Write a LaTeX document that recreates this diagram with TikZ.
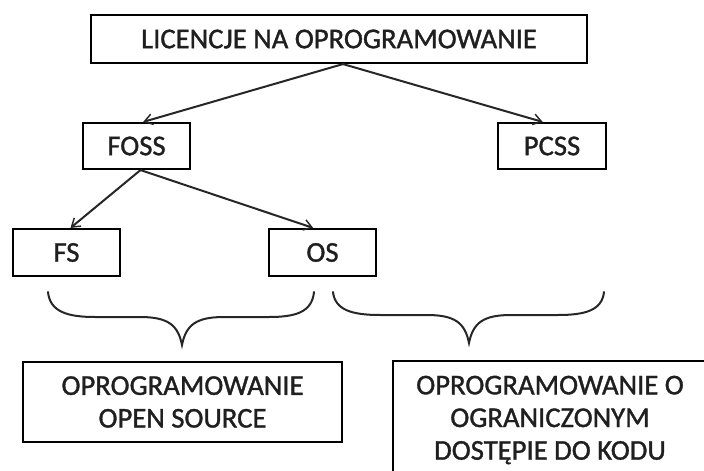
\documentclass[tikz,border=0pt]{standalone}
\usepackage{fontspec}
\setmainfont{Carlito}[FakeBold=1.2,AutoFakeBold=0]
\usetikzlibrary{arrows.meta,calc}
\begin{document}
\begin{tikzpicture}[x=0.75pt,y=-0.75pt,
  box/.style={draw=black,line width=1.6pt,rectangle,inner sep=0pt,
    text=black!88,font=\fontsize{21.5}{24.5}\selectfont,align=center},
  link/.style={line width=1.5pt,draw=black!85,-{Straight Barb[length=6pt,width=8pt,line width=1.1pt]}},
  brace/.style={line width=1.5pt,draw=black!85,line cap=round}]
  \useasboundingbox (0,0) rectangle (704,471);
  \clip (0,0) rectangle (704,471);

  % tree of licence types
  \node[box,minimum width=496*0.75pt,minimum height=48*0.75pt] (lic) at (339,39) {LICENCJE NA OPROGRAMOWANIE};
  \node[box,minimum width=107*0.75pt,minimum height=46*0.75pt] (foss) at (136.5,146) {FOSS};
  \node[box,minimum width=108*0.75pt,minimum height=46*0.75pt] (pcss) at (552,146) {PCSS};
  \node[box,minimum width=107*0.75pt,minimum height=47*0.75pt] (fs) at (66.5,252.5) {FS};
  \node[box,minimum width=107*0.75pt,minimum height=47*0.75pt] (os) at (322.5,252.5) {OS};

  % summary boxes
  \node[box,minimum width=319*0.75pt,minimum height=80*0.75pt] (open) at (182.5,402)
    {OPROGRAMOWANIE\\OPEN SOURCE};
  \node[box,minimum width=314*0.75pt,minimum height=118*0.75pt] (closed) at (550,420)
    {OPROGRAMOWANIE O\\OGRANICZONYM\\DOSTĘPIE DO KODU};

  % arrows
  \draw[link] ([xshift=3pt]lic.south) -- ([xshift=5pt]foss.north);
  \draw[link] ([xshift=3pt]lic.south) -- ([xshift=-7pt]pcss.north);
  \draw[link] ([xshift=3pt]foss.south) -- ([xshift=3pt]fs.north);
  \draw[link] ([xshift=3pt]foss.south) -- ([xshift=-7pt]os.north);

  % curly braces under the leaves
  \draw[brace] (48,292) .. controls (50,312) and (68,317) .. (95,317)
    -- (140,317) .. controls (168,317) and (178,325) .. (182,345)
    .. controls (186,325) and (196,317) .. (224,317)
    -- (269,317) .. controls (296,317) and (312,312) .. (314,292);
  \draw[brace] (333,292) .. controls (335,310) and (352,315) .. (380,315)
    -- (427,315) .. controls (455,315) and (465,323) .. (469,343)
    .. controls (473,323) and (483,315) .. (511,315)
    -- (558,315) .. controls (586,315) and (602,310) .. (604,292);
\end{tikzpicture}
\end{document}
